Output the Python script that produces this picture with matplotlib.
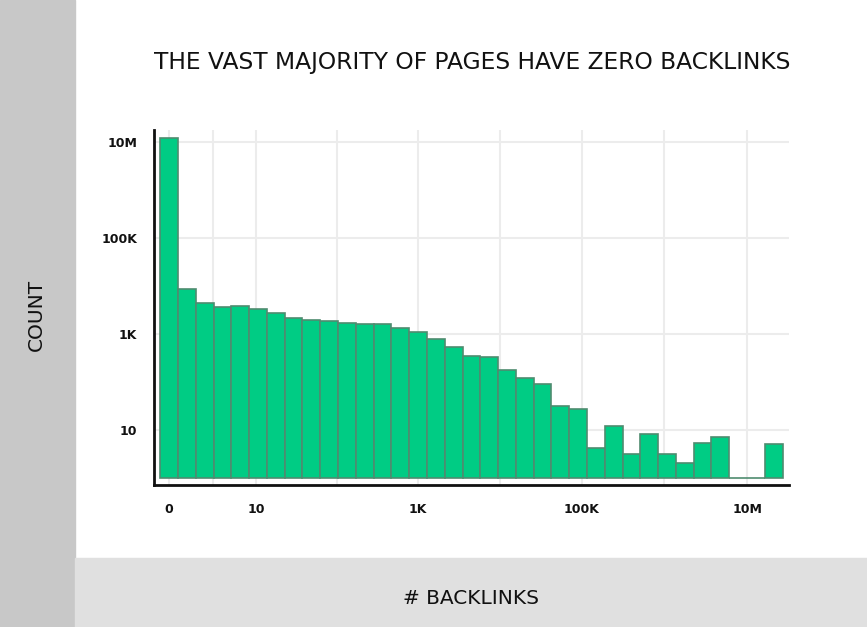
import matplotlib
matplotlib.use("Agg")
import matplotlib.pyplot as plt
from matplotlib.patches import Rectangle

# datos (recuento por intervalo de backlinks, escala log)
counts = [12000000, 8500, 4400, 3600, 3800, 3300, 2700, 2150, 2000, 1870,
          1730, 1620, 1620, 1350, 1100, 776, 535, 347, 327, 178,
          119, 89, 31.6, 27, 4.2, 12.3, 3.16, 8.3, 3.1, 2.1,
          5.3, 7.3, 1, 1, 5.2]
x_tick_pos = [0.5, 2.95, 5.4, 9.95, 14.5, 19.1, 23.7, 28.35, 33.0]
x_tick_labels = ["0", "", "10", "", "1K", "", "100K", "", "10M"]
y_ticks = [10, 1000, 100000, 10000000]
y_tick_labels = ["10", "1K", "100K", "10M"]

plt.rcParams['font.family'] = ['DejaVu Sans']

fig = plt.figure(figsize=(8.67, 6.27), dpi=100)
fig.patch.set_facecolor("white")

# bandas grises de fondo
fig.patches.append(Rectangle((0, 0), 75 / 867, 1, transform=fig.transFigure,
                             color="#c8c8c8", zorder=0))
fig.patches.append(Rectangle((75 / 867, 0), 1, 69 / 627, transform=fig.transFigure,
                             color="#e0e0e0", zorder=0))

ax = fig.add_axes([154 / 867, 142 / 627, 635 / 867, 355 / 627])
ax.set_facecolor("none")

posiciones = list(range(len(counts)))
ax.bar(posiciones, [c - 1 for c in counts], bottom=1, width=1, align="edge",
       color="#00cc84", edgecolor="#4f8c70", linewidth=1.2, zorder=3)

ax.set_yscale("log")
ax.set_ylim(0.715, 17.8e6)
ax.set_xlim(-0.35, 35.36)

ax.set_yticks(y_ticks)
ax.set_yticklabels(y_tick_labels)
ax.minorticks_off()
ax.set_xticks(x_tick_pos)
ax.set_xticklabels(x_tick_labels)
ax.tick_params(length=0, labelsize=9, colors="#111111")
ax.tick_params(axis="y", pad=12)
ax.tick_params(axis="x", pad=13)
for lab in ax.get_xticklabels() + ax.get_yticklabels():
    lab.set_fontweight("bold")

ax.grid(True, color="#ececec", linewidth=1.5, zorder=0)
ax.set_axisbelow(True)

for s in ["top", "right"]:
    ax.spines[s].set_visible(False)
ax.spines["left"].set_linewidth(2)
ax.spines["bottom"].set_linewidth(2)
ax.spines["left"].set_color("#111111")
ax.spines["bottom"].set_color("#111111")

fig.text(472 / 867, 1 - 62 / 627, "THE VAST MAJORITY OF PAGES HAVE ZERO BACKLINKS",
         ha="center", va="center", fontsize=16.8, color="#111111")
fig.text(36 / 867, 1 - 315 / 627, "COUNT", rotation=90, ha="center", va="center",
         fontsize=14.5, color="#111111")
fig.text(471 / 867, 1 - 598 / 627, "# BACKLINKS", ha="center", va="center",
         fontsize=14.5, color="#111111")

fig.savefig("out.png", dpi=100)
